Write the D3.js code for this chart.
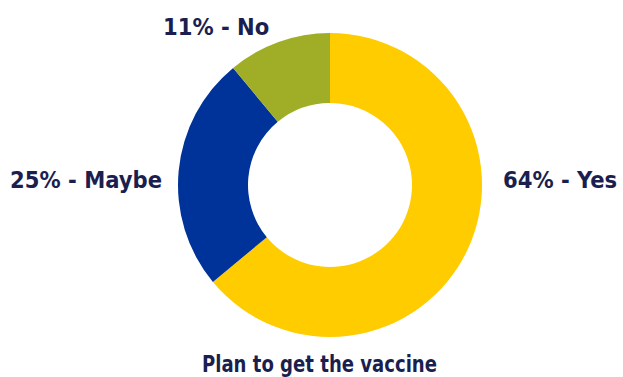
<!DOCTYPE html>
<html>
<head>
<meta charset="utf-8">
<script src="https://cdn.jsdelivr.net/npm/d3@7"></script>
<style>
  html, body { margin: 0; padding: 0; background: #fff; }
  svg text { font-family: "DejaVu Sans Condensed", "DejaVu Sans", sans-serif; font-weight: bold; fill: #1b1f4f; }
</style>
</head>
<body>
<svg id="chart" width="623" height="377"></svg>
<script>
const answers = ['Yes', 'Maybe', 'No'];
const shares = [64, 25, 11];
const colors = ['#ffcc00', '#003399', '#9fae26'];
const title = 'Plan to get the vaccine';

const W = 623, H = 377;
const cx = 330, cy = 185;
const outerR = 152, innerR = 82;

const svg = d3.select('#chart');
const g = svg.append('g').attr('transform', `translate(${cx},${cy})`);

const data = answers.map((a, i) => ({ label: a, value: shares[i], color: colors[i] }));

const pie = d3.pie().value(d => d.value).sort(null);
const arc = d3.arc().innerRadius(innerR).outerRadius(outerR);

g.selectAll('path')
  .data(pie(data))
  .join('path')
  .attr('d', arc)
  .attr('fill', d => d.data.color);

// label placement per slice (anchor side)
const labelPos = {
  Yes:   { x: 503, y: 188, anchor: 'start' },
  Maybe: { x: 162, y: 188, anchor: 'end' },
  No:    { x: 163, y: 35,  anchor: 'start' }
};

svg.append('g')
  .selectAll('text')
  .data(data)
  .join('text')
  .attr('x', d => labelPos[d.label].x)
  .attr('y', d => labelPos[d.label].y)
  .attr('text-anchor', d => labelPos[d.label].anchor)
  .attr('font-size', '23.5px')
  .text(d => `${d.value}% - ${d.label}`);

svg.append('text')
  .attr('x', 202)
  .attr('y', 372)
  .attr('font-size', '22.5px')
  .attr('textLength', 235)
  .attr('lengthAdjust', 'spacingAndGlyphs')
  .text(title);
</script>
</body>
</html>
